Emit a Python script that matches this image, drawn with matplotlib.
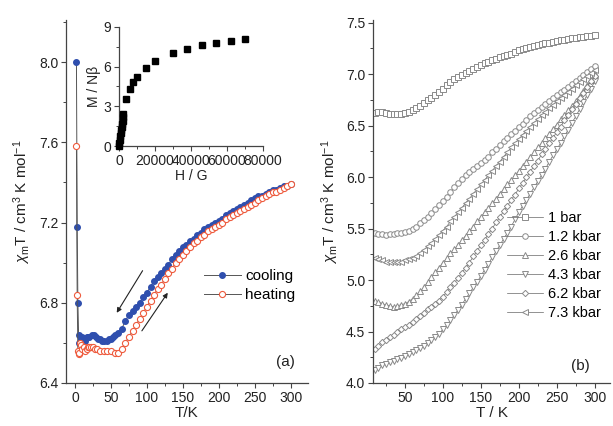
#!/usr/bin/env python3
"""chi_m T vs T: cooling/heating loop (a) and pressure series (b), with M(H) inset."""

import matplotlib

matplotlib.use("Agg")
import matplotlib.pyplot as plt
from matplotlib.ticker import MultipleLocator, FormatStrFormatter

plt.rcParams["font.family"] = ["Liberation Sans", "DejaVu Sans"]
plt.rcParams["mathtext.fontset"] = "custom"
plt.rcParams["mathtext.rm"] = "Liberation Sans"
plt.rcParams["mathtext.it"] = "Liberation Sans:italic"

# ---- panel (a): cooling / heating ----
T_cool = [2, 3, 4, 5, 6, 8, 10, 12, 14, 16, 18, 20, 23, 26, 29, 32, 35, 38, 41, 44,
          47, 50, 53, 56, 60, 65, 70, 75, 80, 85, 90, 95,
          100, 105, 110, 115, 120, 125, 130, 135, 140, 145, 150, 155, 160, 165, 170,
          175, 180, 185, 190, 195, 200, 205, 210, 215, 220, 225, 230, 235, 240, 245,
          250, 255, 260, 265, 270, 275, 280, 285, 290, 295, 300]
chiT_cool = [8.00, 7.18, 6.80, 6.64, 6.60, 6.62, 6.63, 6.62, 6.61, 6.63, 6.63, 6.63,
             6.64, 6.64, 6.63, 6.62, 6.62, 6.61, 6.61, 6.61, 6.62, 6.62, 6.63, 6.64,
             6.65, 6.67, 6.71, 6.74, 6.76, 6.78, 6.80, 6.83,
             6.85, 6.88, 6.91, 6.93, 6.95, 6.97, 6.99, 7.02, 7.04, 7.06, 7.08, 7.09,
             7.11, 7.12, 7.14, 7.15, 7.17, 7.18, 7.19, 7.20, 7.21, 7.22, 7.24, 7.25,
             7.26, 7.27, 7.28, 7.29, 7.30, 7.31, 7.32, 7.33, 7.33, 7.34, 7.35, 7.36,
             7.36, 7.37, 7.38, 7.38, 7.39]

T_heat = [2, 3, 4, 5, 6, 7, 8, 10, 12, 14, 16, 18, 20, 22, 25, 28, 31, 35, 40, 45,
          50, 55, 60, 65, 70, 75, 80, 85, 90, 95, 100, 105, 110, 115, 120, 125, 130,
          135, 140, 145, 150, 155, 160, 165, 170, 175, 180, 185, 190, 195, 200, 205,
          210, 215, 220, 225, 230, 235, 240, 245, 250, 255, 260, 265, 270, 275, 280,
          285, 290, 295, 300]
chiT_heat = [7.58, 6.84, 6.56, 6.545, 6.55, 6.60, 6.59, 6.57, 6.58, 6.56, 6.57, 6.58,
             6.58, 6.58, 6.58, 6.57, 6.57, 6.56, 6.56, 6.56, 6.56, 6.55, 6.55, 6.57,
             6.60, 6.63, 6.66, 6.69, 6.72, 6.75, 6.78, 6.81, 6.84, 6.87, 6.89, 6.92,
             6.95, 6.97, 7.00, 7.02, 7.04, 7.06, 7.08, 7.10, 7.11, 7.13, 7.14, 7.16,
             7.17, 7.18, 7.19, 7.20, 7.22, 7.23, 7.24, 7.25, 7.26, 7.27, 7.28, 7.29,
             7.30, 7.31, 7.32, 7.33, 7.34, 7.35, 7.35, 7.36, 7.37, 7.38, 7.39]

# inset: magnetisation vs field
H_field = [0, 250, 500, 750, 1000, 1250, 1500, 1750, 2000, 2250, 2500,
           4000, 6000, 8000, 10000, 15000, 20000, 30000, 38000, 46000, 54000, 62000, 70000]
M_red = [0.0, 0.25, 0.49, 0.74, 0.98, 1.22, 1.46, 1.70, 1.93, 2.16, 2.40,
         3.55, 4.30, 4.85, 5.25, 5.90, 6.40, 7.00, 7.35, 7.60, 7.80, 7.95, 8.05]

# arrows (T, chiT) tail -> head
arrow_cool = [(94, 6.96), (58, 6.75)]
arrow_heat = [(93, 6.66), (129, 6.85)]

# ---- panel (b): pressure series ----
T_p = [10, 15, 20, 25, 30, 35, 40, 45, 50, 55, 60, 65, 70, 75, 80, 85, 90, 95, 100,
       105, 110, 115, 120, 125, 130, 135, 140, 145, 150, 155, 160, 165, 170, 175, 180,
       185, 190, 195, 200, 205, 210, 215, 220, 225, 230, 235, 240, 245, 250, 255, 260,
       265, 270, 275, 280, 285, 290, 295, 300]
chiT_1bar = [6.62, 6.63, 6.63, 6.62, 6.61, 6.61, 6.61, 6.61, 6.62, 6.63, 6.65, 6.67,
             6.69, 6.72, 6.75, 6.77, 6.80, 6.83, 6.86, 6.89, 6.92, 6.95, 6.97, 6.99,
             7.01, 7.03, 7.05, 7.07, 7.09, 7.11, 7.12, 7.14, 7.15, 7.17, 7.18, 7.19,
             7.20, 7.22, 7.23, 7.24, 7.25, 7.26, 7.27, 7.28, 7.29, 7.30, 7.30, 7.31,
             7.32, 7.33, 7.33, 7.34, 7.35, 7.35, 7.36, 7.36, 7.37, 7.37, 7.38]
chiT_1p2 = [5.46, 5.45, 5.45, 5.44, 5.45, 5.45, 5.46, 5.46, 5.47, 5.48, 5.50, 5.52,
            5.55, 5.58, 5.61, 5.65, 5.69, 5.73, 5.77, 5.81, 5.86, 5.90, 5.94, 5.98,
            6.02, 6.05, 6.08, 6.11, 6.14, 6.17, 6.20, 6.24, 6.27, 6.31, 6.35, 6.38,
            6.42, 6.45, 6.49, 6.52, 6.55, 6.59, 6.62, 6.65, 6.68, 6.71, 6.74, 6.77,
            6.80, 6.83, 6.85, 6.88, 6.90, 6.93, 6.96, 6.99, 7.02, 7.05, 7.08]
chiT_2p6 = [4.80, 4.79, 4.77, 4.76, 4.75, 4.74, 4.75, 4.76, 4.77, 4.79, 4.82, 4.85,
            4.89, 4.93, 4.98, 5.03, 5.08, 5.12, 5.17, 5.21, 5.26, 5.30, 5.34, 5.39,
            5.43, 5.48, 5.52, 5.57, 5.61, 5.66, 5.70, 5.75, 5.79, 5.84, 5.88, 5.93,
            5.97, 6.02, 6.06, 6.11, 6.15, 6.20, 6.24, 6.29, 6.33, 6.38, 6.42, 6.47,
            6.51, 6.56, 6.60, 6.65, 6.69, 6.74, 6.79, 6.84, 6.89, 6.94, 7.00]
chiT_4p3 = [4.13, 4.15, 4.17, 4.18, 4.20, 4.21, 4.23, 4.24, 4.26, 4.28, 4.30, 4.32,
            4.34, 4.36, 4.39, 4.42, 4.45, 4.48, 4.52, 4.56, 4.61, 4.66, 4.71, 4.76,
            4.82, 4.87, 4.93, 4.98, 5.04, 5.10, 5.16, 5.22, 5.28, 5.34, 5.40, 5.46,
            5.52, 5.59, 5.66, 5.72, 5.78, 5.84, 5.90, 5.96, 6.02, 6.08, 6.15, 6.21,
            6.27, 6.33, 6.40, 6.46, 6.53, 6.59, 6.66, 6.73, 6.80, 6.86, 6.93]
chiT_6p2 = [4.33, 4.36, 4.40, 4.42, 4.45, 4.47, 4.50, 4.52, 4.54, 4.56, 4.59, 4.62,
            4.65, 4.68, 4.72, 4.74, 4.77, 4.80, 4.84, 4.88, 4.93, 4.97, 5.02, 5.07,
            5.12, 5.17, 5.23, 5.28, 5.34, 5.39, 5.45, 5.50, 5.56, 5.61, 5.67, 5.72,
            5.78, 5.83, 5.89, 5.94, 6.00, 6.05, 6.11, 6.16, 6.22, 6.27, 6.33, 6.38,
            6.44, 6.49, 6.55, 6.60, 6.66, 6.71, 6.77, 6.82, 6.88, 6.93, 6.98]
chiT_7p3 = [5.21, 5.20, 5.19, 5.18, 5.18, 5.18, 5.18, 5.18, 5.19, 5.20, 5.21, 5.23,
            5.26, 5.29, 5.33, 5.36, 5.40, 5.44, 5.48, 5.52, 5.57, 5.61, 5.66, 5.70,
            5.75, 5.79, 5.84, 5.88, 5.93, 5.97, 6.02, 6.06, 6.11, 6.15, 6.20, 6.24,
            6.29, 6.33, 6.37, 6.41, 6.45, 6.49, 6.53, 6.56, 6.60, 6.63, 6.67, 6.70,
            6.74, 6.77, 6.80, 6.83, 6.86, 6.89, 6.92, 6.95, 6.98, 7.01, 7.04]

pressure_labels = ["1 bar", "1.2 kbar", "2.6 kbar", "4.3 kbar", "6.2 kbar", "7.3 kbar"]
pressure_series = [chiT_1bar, chiT_1p2, chiT_2p6, chiT_4p3, chiT_6p2, chiT_7p3]
pressure_markers = ["s", "o", "^", "v", "D", "<"]
pressure_msize = [4.0, 4.0, 4.0, 4.0, 3.2, 4.0]

YLABEL = r"$\chi_\mathregular{m}$T / cm$^\mathregular{3}$ K mol$^\mathregular{-1}$"
AXCOL = "#444444"


def style(ax, fs=10):
    for s in ("top", "right"):
        ax.spines[s].set_visible(False)
    for s in ("left", "bottom"):
        ax.spines[s].set_color(AXCOL)
        ax.spines[s].set_linewidth(0.9)
    ax.tick_params(which="major", direction="out", length=3.5, width=0.8,
                   color=AXCOL, labelsize=fs, labelcolor="#222222", pad=2)
    ax.tick_params(which="minor", direction="out", length=2, width=0.7, color=AXCOL)


fig = plt.figure(figsize=(6.13, 4.26), dpi=100)

# panel (a)
ax1 = fig.add_axes([0.1077, 0.101, 0.3947, 0.852])
ax1.plot(T_cool, chiT_cool, "-", color="#555555", lw=0.7, marker="o", ms=4.0,
         mfc="#2f4fae", mec="#2f4fae", label="cooling", zorder=3)
ax1.plot(T_heat, chiT_heat, "-", color="#555555", lw=0.7, marker="o", ms=4.4,
         mfc="white", mec="#ee5a3c", mew=0.8, label="heating", zorder=4)
for tail, head in (arrow_cool, arrow_heat):
    ax1.annotate("", xy=head, xytext=tail,
                 arrowprops=dict(arrowstyle="-|>", color="#222222", lw=0.8,
                                 mutation_scale=7, shrinkA=0, shrinkB=0))
ax1.set_xlim(-12.5, 324)
ax1.set_ylim(6.4, 8.21)
ax1.xaxis.set_major_locator(MultipleLocator(50))
ax1.xaxis.set_minor_locator(MultipleLocator(25))
ax1.yaxis.set_major_locator(MultipleLocator(0.4))
ax1.yaxis.set_minor_locator(MultipleLocator(0.2))
ax1.yaxis.set_major_formatter(FormatStrFormatter("%.1f"))
style(ax1)
ax1.set_xlabel("T/K", fontsize=11, color="#222222", labelpad=1)
ax1.set_ylabel(YLABEL, fontsize=11, color="#222222", labelpad=4)
ax1.legend(loc="upper left", bbox_to_anchor=(0.545, 0.33), frameon=False,
           fontsize=11, handlelength=2.4, handletextpad=0.3, labelspacing=0.3,
           borderaxespad=0)
ax1.text(0.946, 0.058, "(a)", transform=ax1.transAxes, fontsize=11, ha="right",
         va="center", color="#222222")

# inset
axi = fig.add_axes([0.194, 0.657, 0.235, 0.280])
axi.plot(H_field, M_red, "s", color="black", ms=4.5, zorder=3, clip_on=False)
axi.set_xlim(0, 80000)
axi.set_ylim(0, 9)
axi.xaxis.set_major_locator(MultipleLocator(20000))
axi.xaxis.set_minor_locator(MultipleLocator(10000))
axi.yaxis.set_major_locator(MultipleLocator(3))
axi.yaxis.set_minor_locator(MultipleLocator(1.5))
style(axi, fs=10)
axi.set_xlabel("H / G", fontsize=10, color="#222222", labelpad=1)
axi.set_ylabel("M / Nβ", fontsize=10, color="#222222", labelpad=2)
axi.patch.set_alpha(0)

# panel (b)
ax2 = fig.add_axes([0.6085, 0.101, 0.3866, 0.852])
for vals, lab, mk, ms in zip(pressure_series, pressure_labels, pressure_markers,
                             pressure_msize):
    ax2.plot(T_p, vals, "-", color="#666666", lw=0.5, marker=mk, ms=ms,
             mfc="white", mec="#8a8a8a", mew=0.7, label=lab)
ax2.set_xlim(8, 320)
ax2.set_ylim(4.0, 7.526)
ax2.xaxis.set_major_locator(MultipleLocator(50))
ax2.xaxis.set_minor_locator(MultipleLocator(25))
ax2.yaxis.set_major_locator(MultipleLocator(0.5))
ax2.yaxis.set_minor_locator(MultipleLocator(0.25))
ax2.yaxis.set_major_formatter(FormatStrFormatter("%.1f"))
style(ax2)
ax2.set_xlabel("T / K", fontsize=11, color="#222222", labelpad=1)
ax2.set_ylabel(YLABEL, fontsize=11, color="#222222", labelpad=4)
ax2.legend(loc="upper left", bbox_to_anchor=(0.54, 0.49), frameon=False,
           fontsize=10.5, handlelength=2.5, handletextpad=0.3, labelspacing=0.35,
           borderaxespad=0)
ax2.text(0.916, 0.047, "(b)", transform=ax2.transAxes, fontsize=11, ha="right",
         va="center", color="#222222")

fig.savefig("out.png", dpi=100)
plt.close(fig)
